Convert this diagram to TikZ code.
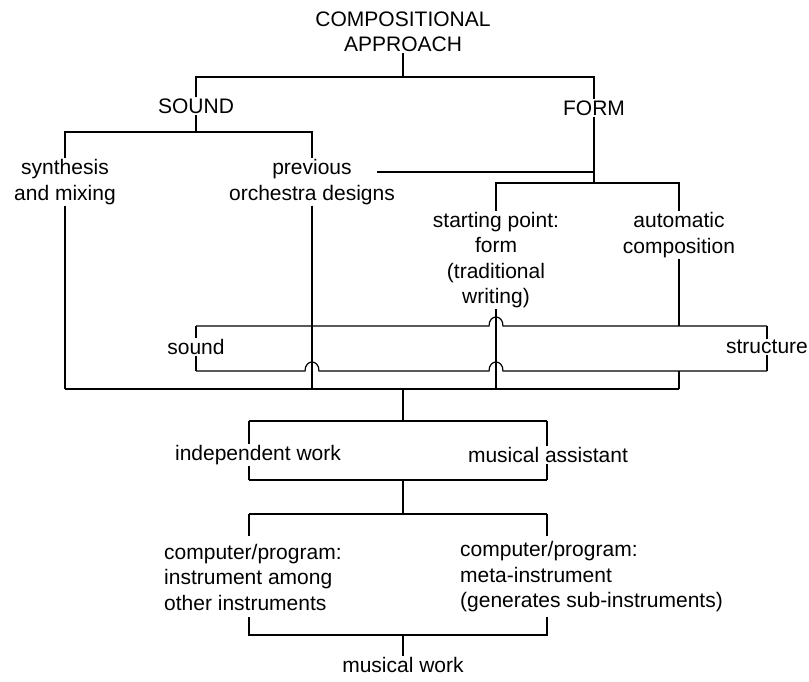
\documentclass[tikz,border=0pt]{standalone}
\usepackage{fontspec}
\setmainfont{Liberation Sans}
\begin{document}
\begin{tikzpicture}[x=1pt,y=-1pt,
  lbl/.style={font=\fontsize{21}{25.5}\selectfont, inner sep=1pt, align=center},
  lbll/.style={lbl, align=left},
  conn/.style={draw=black, line width=1.2pt}]
\useasboundingbox (0,0) rectangle (809,681);
% nodes
\node[lbl] (comp) at (403,32) {COMPOSITIONAL\\APPROACH};
\node[lbl] (sound) at (196,106) {SOUND};
\node[lbl] (form) at (594,108) {FORM};
\node[lbl] (synth) at (65,182) {synthesis\\and mixing};
\node[lbl] (prev) at (312,182) {previous\\orchestra designs};
\node[lbl] (start) at (496,260) {starting point:\\form\\(traditional\\writing)};
\node[lbl] (auto) at (679,235) {automatic\\composition};
\node[lbl] (sndl) at (196,347) {sound};
\node[lbl] (strl) at (767,347) {structure};
\node[lbl] (indep) at (258,455) {independent work};
\node[lbl] (assist) at (548,455) {musical assistant};
\node[lbll, anchor=west] (instr) at (163,577) {computer/program:\\instrument among\\other instruments};
\node[lbll, anchor=west] (meta) at (459,577) {computer/program:\\meta-instrument\\(generates sub-instruments)};
\node[lbl] (work) at (403,665) {musical work};
% junction coordinates
\coordinate (t1) at (403,77);
\coordinate (s1) at (196,132);
\coordinate (f0) at (594,172);
\coordinate (f1) at (594,183);
\coordinate (pv) at (377,172);
\coordinate (bL1) at (196,326);
\coordinate (bR1) at (767,326);
\coordinate (bL2) at (196,371);
\coordinate (bR2) at (767,371);
\coordinate (a1) at (679,326);
\coordinate (a2) at (679,371);
\coordinate (b1) at (65,389);
\coordinate (b2) at (312,389);
\coordinate (b3) at (496,389);
\coordinate (b4) at (679,389);
\coordinate (b0) at (403,389);
\coordinate (i0) at (403,421);
\coordinate (i1) at (249,421);
\coordinate (i2) at (547,421);
\coordinate (i3) at (249,480);
\coordinate (i4) at (547,480);
\coordinate (i5) at (403,480);
\coordinate (c0) at (403,514);
\coordinate (c1) at (249,514);
\coordinate (c2) at (547,514);
\coordinate (c3) at (249,536);
\coordinate (c4) at (547,536);
\coordinate (d1) at (249,617);
\coordinate (d2) at (547,617);
\coordinate (d3) at (249,635);
\coordinate (d4) at (547,635);
\coordinate (d0) at (403,635);
% connectors
\path[conn] (comp.south) -- (t1);
\path[conn] (sound.north) |- (t1) -| (form.north);
\path[conn] (sound.south) -- (s1);
\path[conn] (synth.north) |- (s1) -| (prev.north);
\path[conn] (form.south) -- (f1);
\path[conn] (pv) -- (f0);
\path[conn] (start.north) |- (f1) -| (auto.north);
\path[conn] (auto.south) -- (a1);
% sound / structure bracket
\path[conn] (bL1) -- (489,326) .. controls (489,314) and (503,314) .. (503,326) -- (bR1);
\path[conn] (bL2) -- (305,371) .. controls (305,359) and (319,359) .. (319,371)
   -- (489,371) .. controls (489,359) and (503,359) .. (503,371) -- (bR2);
\path[conn] (bL1) -- (sndl.north);
\path[conn] (sndl.south) -- (bL2);
\path[conn] (bR1) -- (strl.north);
\path[conn] (strl.south) -- (bR2);
% verticals into the collecting line
\path[conn] (synth.south) -- (b1);
\path[conn] (prev.south) -- (b2);
\path[conn] (start.south) -- (b3);
\path[conn] (a2) -- (b4);
\path[conn] (b1) -- (b4);
\path[conn] (b0) -- (i0);
% independent / assistant bracket
\path[conn] (i1) -- (i2);
\path[conn] (i1) -- (i1 |- indep.north);
\path[conn] (i2) -- (i2 |- assist.north);
\path[conn] (i3 |- indep.south) -- (i3);
\path[conn] (i4 |- assist.south) -- (i4);
\path[conn] (i3) -- (i4);
\path[conn] (i5) -- (c0);
% computer/program bracket
\path[conn] (c1) -- (c2);
\path[conn] (c1) -- (c3);
\path[conn] (c2) -- (c4);
\path[conn] (d1) -- (d3) -- (d4) -- (d2);
\path[conn] (d0) -- (work.north);
\end{tikzpicture}
\end{document}
